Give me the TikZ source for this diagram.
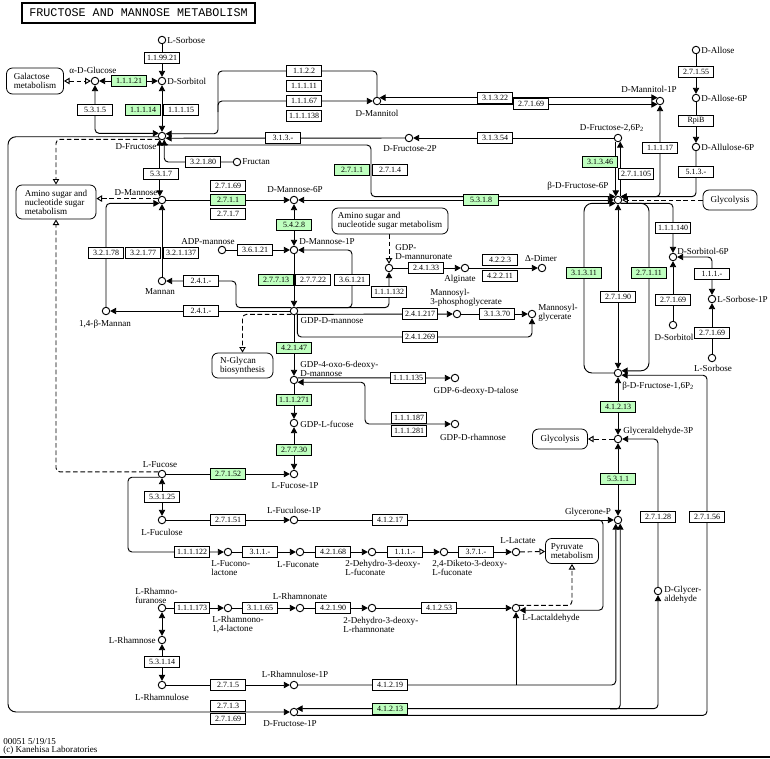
\documentclass[tikz,border=0pt]{standalone}
\usepackage{fontspec}
\setmainfont{Liberation Serif}
\newfontfamily\titlefont{Liberation Mono}
\usetikzlibrary{arrows.meta,backgrounds,calc}
\definecolor{kgreen}{RGB}{191,255,191}
\newcommand\cfont{\fontsize{6.8}{6.7}\selectfont}
\newcommand\efont{\fontsize{6}{6}\selectfont}
\begin{document}
\begin{tikzpicture}[x=0.75pt,y=-0.75pt,
 cpd/.style={circle,draw=black,fill=white,line width=0.7pt,inner sep=0pt,minimum size=5.6pt},
 lab/.style={font=\cfont,inner sep=0pt,align=left,text=black},
 enz/.style={draw=black,fill=white,line width=0.6pt,inner sep=0pt,minimum width=26pt,minimum height=8.2pt,font=\efont},
 gen/.style={enz,fill=kgreen},
 mapb/.style={draw=black,fill=white,line width=0.6pt,rounded corners=4.5pt,inner sep=0pt,font=\cfont,align=left},
 ln/.style={draw=black,line width=0.7pt},
 rc/.style={rounded corners=3pt},
 lnk/.style={draw=black,line width=0.7pt,dash pattern=on 3.5pt off 2pt},
 lnkend/.style={-{Triangle[open,length=4.2pt,width=4.8pt]}},
 lnkboth/.style={{Triangle[open,length=4.2pt,width=4.8pt]}-{Triangle[open,length=4.2pt,width=4.8pt]}},
 >={Triangle[length=4.5pt,width=4.8pt]}]
\useasboundingbox (0,0) rectangle (770,758);
% title and footer
\node[draw=black,line width=1.2pt,minimum width=174.75pt,minimum height=15pt,inner sep=0pt,font=\titlefont\fontsize{8.8}{9}\selectfont] (title) at (138.5,13) {FRUCTOSE AND MANNOSE METABOLISM};
\node[lab,anchor=west] (foot1) at (3,742) {00051 5/19/15};
\node[lab,anchor=west] (foot2) at (3,750) {(c) Kanehisa Laboratories};
\draw[line width=1.5pt] (0,757) -- (770,757);
% compounds
\node[cpd] (lsorb1) at (162,40) {};
\node[cpd] (dsorb) at (162,81) {};
\node[cpd] (aglc) at (95,81) {};
\node[cpd] (dfru) at (162,136) {};
\node[cpd] (fructan) at (237,162) {};
\node[cpd] (dman) at (162,200) {};
\node[cpd] (man6p) at (294,200) {};
\node[cpd] (man1p) at (294,250) {};
\node[cpd] (adpman) at (222,250) {};
\node[cpd] (mannan) at (162,281) {};
\node[cpd] (mannan14) at (106,311) {};
\node[cpd] (gdpman) at (294,311) {};
\node[cpd] (gdpmanur) at (389,268) {};
\node[cpd] (alginate) at (465,268) {};
\node[cpd] (ddimer) at (542,268) {};
\node[cpd] (man3pg) at (457,314) {};
\node[cpd] (mannosylgly) at (532,314) {};
\node[cpd] (gdp4oxo) at (294,380) {};
\node[cpd] (talose) at (455,378) {};
\node[cpd] (gdprha) at (455,424) {};
\node[cpd] (gdpfuc) at (294,423) {};
\node[cpd] (fuc1p) at (294,474) {};
\node[cpd] (lfuc) at (162,474) {};
\node[cpd] (lfucul) at (162,520) {};
\node[cpd] (fucul1p) at (294,520) {};
\node[cpd] (fuconolac) at (228,552) {};
\node[cpd] (fuconate) at (300,552) {};
\node[cpd] (ddf) at (372,552) {};
\node[cpd] (dkf) at (444,552) {};
\node[cpd] (llactate) at (516,552) {};
\node[cpd] (lrhaf) at (162,608) {};
\node[cpd] (rhalac) at (228,608) {};
\node[cpd] (rhanate) at (300,608) {};
\node[cpd] (ddr) at (372,608) {};
\node[cpd] (llald) at (516,608) {};
\node[cpd] (lrha) at (162,640) {};
\node[cpd] (lrhul) at (162,685) {};
\node[cpd] (rhul1p) at (294,685) {};
\node[cpd] (fru1p) at (294,712) {};
\node[cpd] (mannitol) at (377,101) {};
\node[cpd] (fru2p) at (409,138) {};
\node[cpd] (mannitol1p) at (660,101) {};
\node[cpd] (fru26p) at (618,138) {};
\node[cpd] (f6p) at (618,200) {};
\node[cpd] (allose) at (696,50) {};
\node[cpd] (allose6p) at (696,98) {};
\node[cpd] (allulose6p) at (696,147) {};
\node[cpd] (sorb6p) at (673,257) {};
\node[cpd] (dsorb2) at (673,325) {};
\node[cpd] (lsorb1p) at (712,299) {};
\node[cpd] (lsorb2) at (712,358) {};
\node[cpd] (f16p) at (618,373) {};
\node[cpd] (gap) at (618,439) {};
\node[cpd] (dhap) at (618,520) {};
\node[cpd] (dglyald) at (658,591) {};
% compound labels
\node[lab,anchor=west] (tlsorb1) at (167,40) {L-Sorbose};
\node[lab,anchor=west] (tdsorb) at (167,81) {D-Sorbitol};
\node[lab] (taglc) at (93,70) {α-D-Glucose};
\node[lab] (tdfru) at (136,147) {D-Fructose};
\node[lab,anchor=west] (tfructan) at (242,162) {Fructan};
\node[lab] (tdman) at (136,193) {D-Mannose};
\node[lab] (tman6p) at (295,190) {D-Mannose-6P};
\node[lab,anchor=west] (tman1p) at (299,242) {D-Mannose-1P};
\node[lab] (tadpman) at (208,242) {ADP-mannose};
\node[lab] (tmannan) at (160,292) {Mannan};
\node[lab] (tmannan14) at (105,324) {1,4-β-Mannan};
\node[lab] (tgdpman) at (332,321) {GDP-D-mannose};
\node[lab,anchor=west] (tgdpmanur) at (395,252) {GDP-\\D-mannuronate};
\node[lab] (talginate) at (460,279) {Alginate};
\node[lab] (tddimer) at (541,259) {Δ-Dimer};
\node[lab,anchor=west] (tman3pg) at (430,298) {Mannosyl-\\3-phosphoglycerate};
\node[lab,anchor=west] (tmannosylgly) at (538,313) {Mannosyl-\\glycerate};
\node[lab,anchor=west] (tgdp4oxo) at (300,369) {GDP-4-oxo-6-deoxy-\\D-mannose};
\node[lab] (ttalose) at (476,391) {GDP-6-deoxy-D-talose};
\node[lab] (tgdprha) at (473,437) {GDP-D-rhamnose};
\node[lab,anchor=west] (tgdpfuc) at (300,424) {GDP-L-fucose};
\node[lab] (tfuc1p) at (295,486) {L-Fucose-1P};
\node[lab] (tlfuc) at (160,465) {L-Fucose};
\node[lab] (tlfucul) at (162,532) {L-Fuculose};
\node[lab] (tfucul1p) at (294,510) {L-Fuculose-1P};
\node[lab,anchor=north west] (tfuconolac) at (211,560) {L-Fucono-\\lactone};
\node[lab] (tfuconate) at (298,565) {L-Fuconate};
\node[lab,anchor=north west] (tddf) at (345,560) {2-Dehydro-3-deoxy-\\L-fuconate};
\node[lab,anchor=north west] (tdkf) at (432,560) {2,4-Diketo-3-deoxy-\\L-fuconate};
\node[lab] (tllactate) at (518,541) {L-Lactate};
\node[lab,anchor=south west] (tlrhaf) at (135,604) {L-Rhamno-\\furanose};
\node[lab,anchor=north west] (trhalac) at (212,616) {L-Rhamnono-\\1,4-lactone};
\node[lab] (trhanate) at (300,596) {L-Rhamnonate};
\node[lab,anchor=north west] (tddr) at (343,617) {2-Dehydro-3-deoxy-\\L-rhamnonate};
\node[lab,anchor=west] (tllald) at (522,618) {L-Lactaldehyde};
\node[lab,anchor=east] (tlrha) at (156,640) {L-Rhamnose};
\node[lab] (tlrhul) at (162,697) {L-Rhamnulose};
\node[lab] (trhul1p) at (295,674) {L-Rhamnulose-1P};
\node[lab] (tfru1p) at (290,724) {D-Fructose-1P};
\node[lab] (tmannitol) at (377,113) {D-Mannitol};
\node[lab] (tfru2p) at (410,149) {D-Fructose-2P};
\node[lab] (tmannitol1p) at (649,89) {D-Mannitol-1P};
\node[lab] (tfru26p) at (612,128) {D-Fructose-2,6P\textsubscript{2}};
\node[lab] (tf6p) at (578,186) {β-D-Fructose-6P};
\node[lab,anchor=west] (tallose) at (701,50) {D-Allose};
\node[lab,anchor=west] (tallose6p) at (701,98) {D-Allose-6P};
\node[lab,anchor=west] (tallulose6p) at (701,147) {D-Allulose-6P};
\node[lab,anchor=west] (tsorb6p) at (677,251) {D-Sorbitol-6P};
\node[lab] (tdsorb2) at (674,337) {D-Sorbitol};
\node[lab,anchor=west] (tlsorb1p) at (717,299) {L-Sorbose-1P};
\node[lab] (tlsorb2) at (713,368) {L-Sorbose};
\node[lab,anchor=west] (tf16p) at (622,386) {β-D-Fructose-1,6P\textsubscript{2}};
\node[lab,anchor=west] (tgap) at (623,431) {Glyceraldehyde-3P};
\node[lab] (tdhap) at (588,512) {Glycerone-P};
\node[lab,anchor=west] (tdglyald) at (664,595) {D-Glycer-\\aldehyde};
% map boxes
\node[mapb,minimum width=42.75pt,minimum height=19.5pt] (gal) at (35,81) {Galactose\\metabolism};
\node[mapb,minimum width=60pt,minimum height=25.5pt] (amino1) at (56,202) {Amino sugar and\\nucleotide sugar\\metabolism};
\node[mapb,minimum width=87pt,minimum height=19.5pt] (amino2) at (390,221) {Amino sugar and\\nucleotide sugar metabolism};
\node[mapb,minimum width=45.75pt,minimum height=18.75pt] (nglycan) at (242.5,365.5) {N-Glycan\\biosynthesis};
\node[mapb,minimum width=40.5pt,minimum height=15pt] (glyc1) at (730,200) {Glycolysis};
\node[mapb,minimum width=41.25pt,minimum height=15pt] (glyc2) at (560,439) {Glycolysis};
\node[mapb,minimum width=39.75pt,minimum height=18.75pt] (pyr) at (572,551) {Pyruvate\\metabolism};
% enzymes
\node[enz] (e1) at (162,58) {1.1.99.21};
\node[gen] (e2) at (129,81) {1.1.1.21};
\node[enz] (e3) at (95,110) {5.3.1.5};
\node[gen] (e4) at (143,110) {1.1.1.14};
\node[enz] (e5) at (181,110) {1.1.1.15};
\node[enz] (e6) at (161,174) {5.3.1.7};
\node[enz] (e7) at (203,162) {3.2.1.80};
\node[enz] (e8) at (228,186) {2.7.1.69};
\node[gen] (e9) at (228,200) {2.7.1.1};
\node[enz] (e10) at (228,214) {2.7.1.7};
\node[enz] (e11) at (304,71) {1.1.2.2};
\node[enz] (e12) at (304,86) {1.1.1.11};
\node[enz] (e13) at (304,101) {1.1.1.67};
\node[enz] (e14) at (304,116) {1.1.1.138};
\node[enz] (e15) at (495,98) {3.1.3.22};
\node[enz] (e16) at (531,104) {2.7.1.69};
\node[enz] (e17) at (283,138) {3.1.3.-};
\node[enz] (e18) at (495,138) {3.1.3.54};
\node[gen] (e19) at (352,170) {2.7.1.1};
\node[enz] (e20) at (390,170) {2.7.1.4};
\node[enz] (e21) at (696,72) {2.7.1.55};
\node[enz] (e22) at (696,121) {RpiB};
\node[enz] (e23) at (696,172) {5.1.3.-};
\node[enz] (e24) at (660,148) {1.1.1.17};
\node[gen] (e25) at (600,162) {3.1.3.46};
\node[enz] (e26) at (636,174) {2.7.1.105};
\node[gen] (e27) at (481,200) {5.3.1.8};
\node[gen] (e28) at (294,225) {5.4.2.8};
\node[enz] (e29) at (255,250) {3.6.1.21};
\node[enz] (e30) at (352,280) {3.6.1.21};
\node[gen] (e31) at (276,280) {2.7.7.13};
\node[enz] (e32) at (313,280) {2.7.7.22};
\node[enz] (e33) at (106,253) {3.2.1.78};
\node[enz] (e34) at (143,253) {3.2.1.77};
\node[enz] (e35) at (181,253) {3.2.1.137};
\node[enz] (e36) at (201,281) {2.4.1.-};
\node[enz] (e37) at (201,311) {2.4.1.-};
\node[enz] (e38) at (426,268) {2.4.1.33};
\node[enz] (e39) at (500,260) {4.2.2.3};
\node[enz] (e40) at (500,276) {4.2.2.11};
\node[enz] (e41) at (389,292) {1.1.1.132};
\node[enz] (e42) at (420,314) {2.4.1.217};
\node[enz] (e43) at (497,314) {3.1.3.70};
\node[enz] (e44) at (420,337) {2.4.1.269};
\node[gen] (e45) at (294,348) {4.2.1.47};
\node[enz] (e46) at (408,378) {1.1.1.135};
\node[gen] (e47) at (294,400) {1.1.1.271};
\node[enz] (e48) at (409,418) {1.1.1.187};
\node[enz] (e49) at (409,431) {1.1.1.281};
\node[gen] (e50) at (294,450) {2.7.7.30};
\node[gen] (e51) at (228,474) {2.7.1.52};
\node[enz] (e52) at (162,497) {5.3.1.25};
\node[enz] (e53) at (228,520) {2.7.1.51};
\node[enz] (e54) at (390,520) {4.1.2.17};
\node[enz] (e55) at (192,552) {1.1.1.122};
\node[enz] (e56) at (260,552) {3.1.1.-};
\node[enz] (e57) at (333,552) {4.2.1.68};
\node[enz] (e58) at (405,552) {1.1.1.-};
\node[enz] (e59) at (476,552) {3.7.1.-};
\node[enz] (e60) at (192,608) {1.1.1.173};
\node[enz] (e61) at (260,608) {3.1.1.65};
\node[enz] (e62) at (333,608) {4.2.1.90};
\node[enz] (e63) at (439,608) {4.1.2.53};
\node[enz] (e64) at (162,662) {5.3.1.14};
\node[enz] (e65) at (228,685) {2.7.1.5};
\node[enz] (e66) at (390,685) {4.1.2.19};
\node[enz] (e67) at (228,705.5) {2.7.1.3};
\node[enz] (e68) at (228,718.5) {2.7.1.69};
\node[gen] (e69) at (390,709) {4.1.2.13};
\node[enz] (e70) at (673,228) {1.1.1.140};
\node[gen] (e71) at (584,273) {3.1.3.11};
\node[enz] (e72) at (618,297) {2.7.1.90};
\node[gen] (e73) at (649,273) {2.7.1.11};
\node[enz] (e74) at (712,274) {1.1.1.-};
\node[enz] (e75) at (673,300) {2.7.1.69};
\node[enz] (e76) at (712,333) {2.7.1.69};
\node[gen] (e77) at (618,407) {4.1.2.13};
\node[gen] (e78) at (618,479) {5.3.1.1};
\node[enz] (e79) at (658,517) {2.7.1.28};
\node[enz] (e80) at (707,517) {2.7.1.56};
% connectors
\begin{scope}[on background layer]
\draw[ln,->] (lsorb1) -- (dsorb);
\draw[ln,<->] (aglc) -- (dsorb);
\draw[lnk,lnkboth] (gal) -- (aglc);
\draw[ln,rc,<->] (aglc) |- (dfru.140);
\draw[ln,<->] (dsorb) -- (dfru);
\draw[ln,rc,->] (mannitol) |- (218,71) |- (dfru.32);
\draw[ln,rc,->] (218,112) |- (mannitol);
\draw[ln,<->] (mannitol.53) -- (mannitol1p.127);
\draw[ln,->] (mannitol.-53) -- (mannitol1p.-127);
\draw[ln,->] (fru2p) -- (dfru.-32);
\draw[ln,->] (fru26p) -- (fru2p);
\draw[ln,rc,->] (fructan) -| (dfru.-58);
\draw[ln,rc,->] (dfru.-58) |- (371,145) |- (f6p.127);
\draw[ln,<->] (dfru.-122) -- (dman.122);
\draw[ln,rounded corners=6pt,->] (dfru.190) -| (8,400) |- (fru1p);
\draw[lnk,rc,lnkend] (dfru.-127) -| (amino1.north);
\draw[lnk,lnkend] (dman.160) -- (dman.160 -| amino1.east);
\draw[ln,->] (dman) -- (man6p);
\draw[ln,<->] (man6p) -- (f6p);
\draw[ln,<->] (man6p) -- (man1p);
\draw[ln,->] (adpman) -- (man1p);
\draw[ln,rc,->] (gdpman.53) -| (352,250) -- (man1p);
\draw[ln,rc,->] (gdpman.53) -| (gdpmanur);
\draw[ln,->] (man1p) -- (gdpman);
\draw[ln,rc,->] (gdpman.127) -| (236,281) -- (mannan);
\draw[ln,->] (gdpman.west) -- (mannan14);
\draw[lnk,rc,lnkend] (gdpman.233) -| (nglycan.north);
\draw[ln,rc,->] (mannan14) |- (dman.-127);
\draw[ln,->] (mannan) -- (dman);
\draw[ln,->] (gdpmanur) -- (alginate);
\draw[ln,->] (alginate) -- (ddimer);
\draw[lnk,lnkend] (amino2.south -| gdpmanur) -- (gdpmanur);
\draw[ln,->] (gdpman.-53) -- (man3pg);
\draw[ln,->] (man3pg) -- (mannosylgly);
\draw[ln,rc,->] (gdpman.-37) |- (532,337) -- (mannosylgly);
\draw[ln,->] (gdpman) -- (gdp4oxo);
\draw[ln,->] (gdp4oxo.32) -- (talose);
\draw[ln,rc,<->] (gdp4oxo.-32) -| (365,424) -- (gdprha);
\draw[ln,->] (gdp4oxo) -- (gdpfuc);
\draw[ln,<->] (gdpfuc) -- (fuc1p);
\draw[ln,->] (lfuc) -- (fuc1p);
\draw[ln,<->] (lfuc) -- (lfucul);
\draw[ln,->] (lfucul) -- (fucul1p);
\draw[lnk,rc,lnkend] (lfuc.150) -| (amino1.south);
\draw[ln,rc,->] (lfuc.-130) -| (128,552) -- (fuconolac);
\draw[ln,->] (fuconolac) -- (fuconate);
\draw[ln,->] (fuconate) -- (ddf);
\draw[ln,->] (ddf) -- (dkf);
\draw[ln,->] (dkf) -- (llactate);
\draw[lnk,lnkend] (llactate) -- (pyr);
\draw[lnk,rc,lnkend] (llald.40) -| (pyr.south);
\draw[ln,->] (fucul1p) -- (dhap);
\draw[ln,rc,->] (590,520) -| (603,560) |- (llald.-32);
\draw[ln,->] (lrhaf) -- (rhalac);
\draw[ln,->] (rhalac) -- (rhanate);
\draw[ln,->] (rhanate) -- (ddr);
\draw[ln,->] (ddr) -- (llald);
\draw[ln,<->] (lrhaf) -- (lrha);
\draw[ln,<->] (lrha) -- (lrhul);
\draw[ln,->] (lrhul) -- (rhul1p);
\draw[ln,rc,->] (rhul1p) -| (dhap.-122);
\draw[ln,->] (516,685) -- (llald);
\draw[ln,rc,<->] (fru1p.53) -| (dglyald);
\draw[ln,rc,->] (610,709) -| (dhap.-58);
\draw[ln,rc,->] (fru1p.-53) -| (707,450) |- (f16p.-32);
\draw[ln,rc,->] (dglyald) |- (gap);
\draw[ln,<->] (f16p) -- (gap);
\draw[ln,<->] (gap) -- (dhap);
\draw[lnk,lnkend] (gap) -- (glyc2);
\draw[ln,->] (fru26p.-122) -- (f6p.122);
\draw[ln,->] (f6p.58) -- (fru26p.-58);
\draw[ln,rc,<->] (mannitol1p) |- (f6p.53);
\draw[ln,rc,->] (allulose6p) |- (f6p.53);
\draw[lnk,lnkend] (glyc1) -- (f6p);
\draw[ln,rc,->] (f6p.-53) -| (sorb6p);
\draw[ln,rounded corners=6pt,->] (f6p.-53) -| (649,300) |- (f16p.32);
\draw[ln,rounded corners=6pt,->] (f16p.west) -| (584,300) |- (f6p.-127);
\draw[ln,<->] (f6p) -- (f16p);
\draw[ln,->] (dsorb2) -- (sorb6p);
\draw[ln,rc,<->] (sorb6p) -| (lsorb1p);
\draw[ln,->] (lsorb2) -- (lsorb1p);
\draw[ln,->] (allose) -- (allose6p);
\draw[ln,->] (allose6p) -- (allulose6p);
\end{scope}
\end{tikzpicture}
\end{document}
